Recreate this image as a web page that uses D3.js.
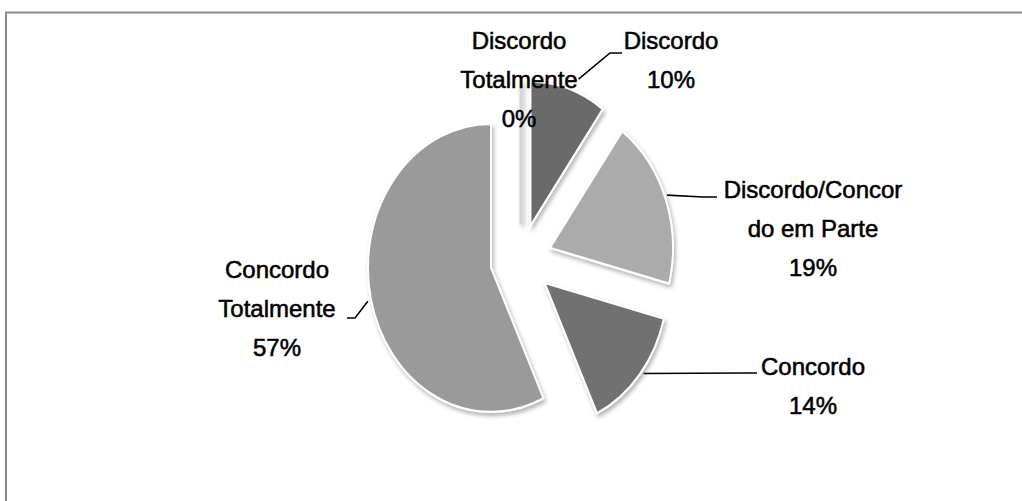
<!DOCTYPE html>
<html>
<head>
<meta charset="utf-8">
<script src="https://cdn.jsdelivr.net/npm/d3@7"></script>
<style>
  html, body { margin: 0; padding: 0; background: #fff; }
  svg { display: block; }
  .lbl { font-family: "Liberation Sans", Arial, sans-serif; font-size: 24px; fill: #000;
         stroke: #000; stroke-width: 0.55px; paint-order: stroke; }
</style>
</head>
<body>
<svg id="chart" width="1022" height="501"></svg>
<script>
// Survey answers, in order around the pie (clockwise from 12 o'clock)
const categories = ["Discordo Totalmente", "Discordo", "Discordo/Concordo em Parte", "Concordo", "Concordo Totalmente"];
const values = [0, 10, 19, 14, 57];
// Category names as wrapped on the data labels
const labelLines = [
  ["Discordo", "Totalmente"],
  ["Discordo"],
  ["Discordo/Concor", "do em Parte"],
  ["Concordo"],
  ["Concordo", "Totalmente"]
];
const sliceColors = ["#d4d4d4", "#6b6b6b", "#ababab", "#717171", "#9a9a9a"];

// Layout
const W = 1022, H = 501;
const cx = 521, cy = 260, R = 144, squeezeX = 0.854, explode = 36;
const lineGap = 39;
// label block: centre x, first baseline; leader: angle on slice (deg), radius, elbow, end
const labelLayout = [
  { x: 519, y: 49 },
  { x: 671, y: 49,  lead: { a: 21,  r: 157, elbow: [610, 53], end: [622, 53] } },
  { x: 813, y: 198, lead: { a: 69,  r: 147, elbow: [703, 197], end: [717, 197] } },
  { x: 813, y: 375, lead: { a: 128, r: 147, elbow: [745, 373], end: [757, 373] } },
  { x: 277, y: 278, lead: { a: 257, r: 148, elbow: [355, 318], end: [347, 318] } }
];

const svg = d3.select("#chart");

// chart area frame
svg.append("path")
  .attr("d", `M6,${H + 2} L6,12.5 L${W + 2},12.5`)
  .attr("fill", "none").attr("stroke", "#8a8a8a").attr("stroke-width", 2);

// soft shadow; fixed region so a zero-width slice still renders
const defs = svg.append("defs");
const f = defs.append("filter").attr("id", "shadow")
  .attr("filterUnits", "userSpaceOnUse")
  .attr("x", -230).attr("y", -230).attr("width", 460).attr("height", 460);
f.append("feDropShadow").attr("dx", 2).attr("dy", 3).attr("stdDeviation", 2.2)
  .attr("flood-color", "#000").attr("flood-opacity", 0.3);

const pie = d3.pie().sort(null).value(d => d)(values);
const arc = d3.arc().innerRadius(0).outerRadius(R);
const total = d3.sum(values);

const rad = a => a * Math.PI / 180;
// offset of an exploded slice along its mid angle
const offset = d => {
  const m = (d.startAngle + d.endAngle) / 2;
  return [explode * Math.sin(m), -explode * Math.cos(m)];
};
// page position of a point on slice i at angle a (deg) and radius r
const slicePoint = (i, a, r) => {
  const [ox, oy] = offset(pie[i]);
  return [cx + squeezeX * (ox + r * Math.sin(rad(a))), cy + oy - r * Math.cos(rad(a))];
};

const g = svg.append("g")
  .attr("transform", `translate(${cx},${cy}) scale(${squeezeX},1)`);

// an empty slice shows only as its outline, drawn in the slice colour
g.selectAll("path.slice")
  .data(pie)
  .join("path")
  .attr("class", "slice")
  .attr("transform", d => `translate(${offset(d)})`)
  .attr("d", arc)
  .attr("fill", (d, i) => sliceColors[i])
  .attr("stroke", (d, i) => d.value === 0 ? sliceColors[i] : "#fff")
  .attr("stroke-width", d => d.value === 0 ? 3.5 : 2.2)
  .attr("stroke-linejoin", "miter")
  .attr("filter", "url(#shadow)");

// leader lines
labelLayout.forEach((L, i) => {
  if (!L.lead) return;
  const p0 = slicePoint(i, L.lead.a, L.lead.r);
  svg.append("path")
    .attr("d", d3.line()([p0, L.lead.elbow, L.lead.end]))
    .attr("fill", "none").attr("stroke", "#000").attr("stroke-width", 1.6);
});

// data labels: category name lines plus percentage
labelLayout.forEach((L, i) => {
  const lines = labelLines[i].concat([d3.format(".0%")(values[i] / total)]);
  const t = svg.append("text").attr("class", "lbl").attr("text-anchor", "middle");
  lines.forEach((s, k) => {
    t.append("tspan").attr("x", L.x).attr("y", L.y + k * lineGap).text(s);
  });
});
</script>
</body>
</html>
